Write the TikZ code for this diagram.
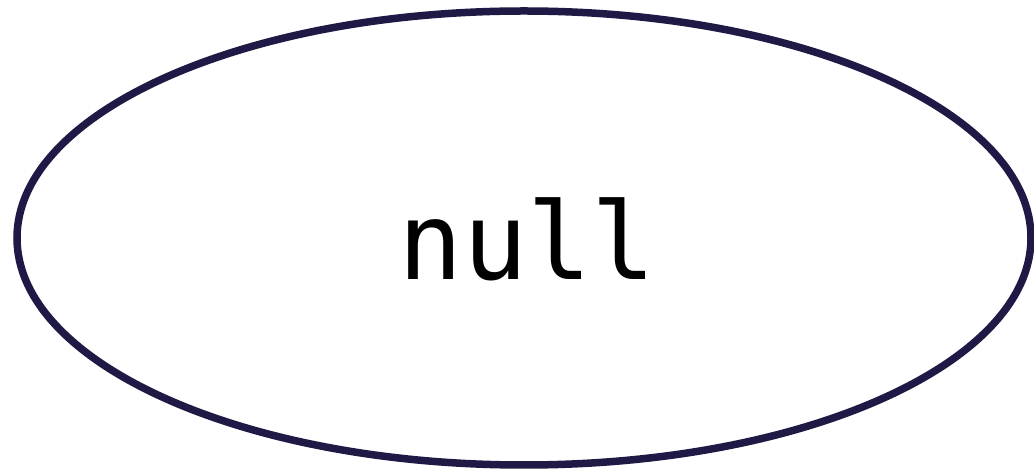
\documentclass[tikz,border=0pt]{standalone}
\usepackage{fontspec}
\newfontfamily\monofont{DejaVu Sans Mono}
\definecolor{edge}{HTML}{1E1A45}
\usetikzlibrary{shapes.geometric}
\begin{document}
\begin{tikzpicture}[x=1pt,y=1pt,
  oval/.style={draw=edge,line width=7.5pt,fill=white}]
\useasboundingbox (0,0) rectangle (1034,471);
\draw[oval] (524,233) ellipse [x radius=507, y radius=227];
\node[anchor=base,inner sep=0pt,font=\monofont\fontsize{107}{120}\selectfont] (t) at (527.5,191) {null};
\end{tikzpicture}
\end{document}
